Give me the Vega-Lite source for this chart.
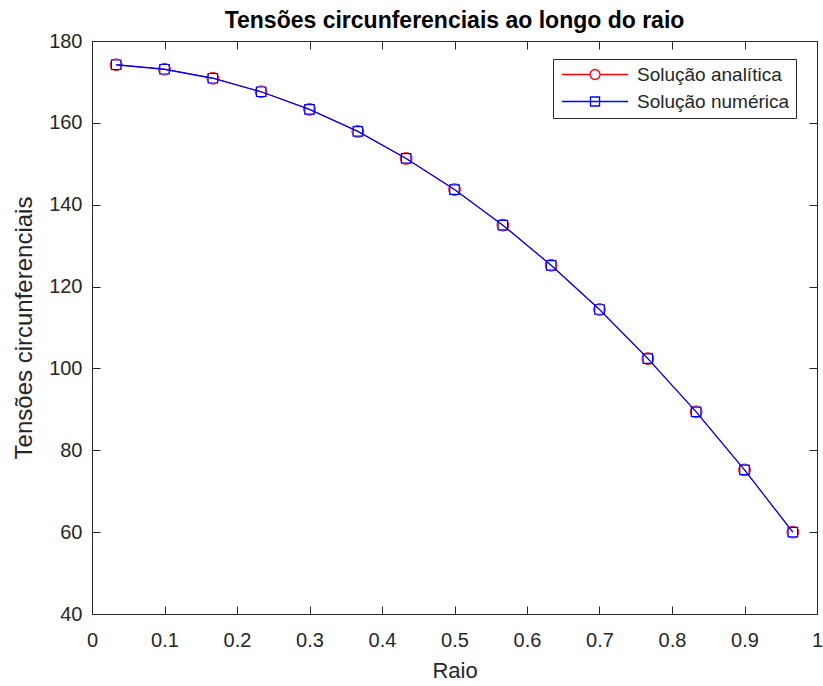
{
  "$schema": "https://vega.github.io/schema/vega-lite/v6.json",
  "autosize": "none",
  "width": 725,
  "height": 573,
  "padding": {"left": 92, "top": 41, "right": 6, "bottom": 72},
  "background": "white",
  "config": {
    "font": "Liberation Sans",
    "view": {"stroke": "#262626", "strokeWidth": 1},
    "axis": {
      "domain": false,
      "tickColor": "#262626",
      "tickWidth": 1,
      "tickSize": 8,
      "offset": -8,
      "labelColor": "#262626",
      "titleColor": "#262626",
      "labelFont": "Liberation Sans",
      "titleFont": "Liberation Sans",
      "labelFontSize": 20,
      "titleFontSize": 22,
      "titleFontWeight": "normal",
      "grid": false
    }
  },
  "title": {
    "text": "Tensões circunferenciais ao longo do raio",
    "font": "Liberation Sans",
    "fontSize": 23,
    "fontWeight": "bold",
    "color": "#000000",
    "anchor": "middle",
    "offset": -2
  },
  "data": {
    "values": [
      {"raio": 0.0333, "tensao": 174.2, "serie": "Solução analítica"},
      {"raio": 0.1, "tensao": 173.1, "serie": "Solução analítica"},
      {"raio": 0.1667, "tensao": 170.9, "serie": "Solução analítica"},
      {"raio": 0.2333, "tensao": 167.6, "serie": "Solução analítica"},
      {"raio": 0.3, "tensao": 163.3, "serie": "Solução analítica"},
      {"raio": 0.3667, "tensao": 157.9, "serie": "Solução analítica"},
      {"raio": 0.4333, "tensao": 151.3, "serie": "Solução analítica"},
      {"raio": 0.5, "tensao": 143.7, "serie": "Solução analítica"},
      {"raio": 0.5667, "tensao": 135.0, "serie": "Solução analítica"},
      {"raio": 0.6333, "tensao": 125.2, "serie": "Solução analítica"},
      {"raio": 0.7, "tensao": 114.4, "serie": "Solução analítica"},
      {"raio": 0.7667, "tensao": 102.4, "serie": "Solução analítica"},
      {"raio": 0.8333, "tensao": 89.4, "serie": "Solução analítica"},
      {"raio": 0.9, "tensao": 75.2, "serie": "Solução analítica"},
      {"raio": 0.9667, "tensao": 60.0, "serie": "Solução analítica"},
      {"raio": 0.0333, "tensao": 174.2, "serie": "Solução numérica"},
      {"raio": 0.1, "tensao": 173.1, "serie": "Solução numérica"},
      {"raio": 0.1667, "tensao": 170.9, "serie": "Solução numérica"},
      {"raio": 0.2333, "tensao": 167.6, "serie": "Solução numérica"},
      {"raio": 0.3, "tensao": 163.3, "serie": "Solução numérica"},
      {"raio": 0.3667, "tensao": 157.9, "serie": "Solução numérica"},
      {"raio": 0.4333, "tensao": 151.3, "serie": "Solução numérica"},
      {"raio": 0.5, "tensao": 143.7, "serie": "Solução numérica"},
      {"raio": 0.5667, "tensao": 135.0, "serie": "Solução numérica"},
      {"raio": 0.6333, "tensao": 125.2, "serie": "Solução numérica"},
      {"raio": 0.7, "tensao": 114.4, "serie": "Solução numérica"},
      {"raio": 0.7667, "tensao": 102.4, "serie": "Solução numérica"},
      {"raio": 0.8333, "tensao": 89.4, "serie": "Solução numérica"},
      {"raio": 0.9, "tensao": 75.2, "serie": "Solução numérica"},
      {"raio": 0.9667, "tensao": 60.0, "serie": "Solução numérica"}
    ]
  },
  "resolve": {"axis": {"x": "independent", "y": "independent"}},
  "layer": [
    {
      "transform": [{"filter": "datum.serie === 'Solução analítica'"}],
      "mark": {"type": "line", "strokeWidth": 1},
      "encoding": {
        "x": {
          "field": "raio",
          "type": "quantitative",
          "scale": {"domain": [0, 1], "nice": false, "zero": false},
          "axis": {"orient": "bottom", "title": "Raio", "values": [0, 0.1, 0.2, 0.3, 0.4, 0.5, 0.6, 0.7, 0.8, 0.9, 1], "format": "~g", "labelPadding": 16, "titlePadding": 10, "labelFlush": false}
        },
        "y": {
          "field": "tensao",
          "type": "quantitative",
          "scale": {"domain": [40, 180], "nice": false, "zero": false},
          "axis": {"orient": "left", "title": "Tensões circunferenciais", "titleFontSize": 24, "values": [40, 60, 80, 100, 120, 140, 160, 180], "labelPadding": 10, "titlePadding": 12, "labelFlush": false}
        },
        "order": {"field": "raio"},
        "color": {
          "field": "serie",
          "type": "nominal",
          "scale": {"domain": ["Solução analítica", "Solução numérica"], "range": ["#ff0000", "#0000ff"]},
          "legend": {
            "title": null,
            "orient": "none",
            "legendX": 461,
            "legendY": 18,
            "padding": 6,
            "strokeColor": "#262626",
            "fillColor": "white",
            "labelFont": "Liberation Sans",
            "labelFontSize": 19,
            "labelColor": "#262626",
            "symbolSize": 144,
            "symbolStrokeWidth": 1.3,
            "symbolFillColor": "transparent",
            "rowPadding": 7,
            "labelOffset": 59,
            "encode": {
              "symbols": {
                "update": {
                  "shape": {"signal": "datum.value === 'Solução analítica' ? 'M-1.08,0H3.59M5.25,0H9.92M3.59,0A0.83,0.83 0 1,1 5.25,0A0.83,0.83 0 1,1 3.59,0' : 'M-1.08,0H9.92M3.67,-0.75H5.17V0.75H3.67Z'"},
                  "fill": {"value": "transparent"}
                }
              }
            }
          }
        }
      }
    },
    {
      "transform": [{"filter": "datum.serie === 'Solução analítica'"}],
      "mark": {"type": "point", "shape": "circle", "filled": false, "stroke": "#ff0000", "strokeWidth": 1, "size": 140, "opacity": 1},
      "encoding": {
        "x": {
          "field": "raio",
          "type": "quantitative",
          "axis": {"orient": "top", "title": null, "labels": false, "values": [0, 0.1, 0.2, 0.3, 0.4, 0.5, 0.6, 0.7, 0.8, 0.9, 1]}
        },
        "y": {
          "field": "tensao",
          "type": "quantitative",
          "axis": {"orient": "right", "title": null, "labels": false, "values": [40, 60, 80, 100, 120, 140, 160, 180]}
        }
      }
    },
    {
      "transform": [{"filter": "datum.serie === 'Solução numérica'"}],
      "mark": {"type": "line", "strokeWidth": 1.3},
      "encoding": {
        "x": {"field": "raio", "type": "quantitative", "axis": null},
        "y": {"field": "tensao", "type": "quantitative", "axis": null},
        "order": {"field": "raio"},
        "color": {"field": "serie", "type": "nominal"}
      }
    },
    {
      "transform": [{"filter": "datum.serie === 'Solução numérica'"}],
      "mark": {"type": "point", "shape": "square", "filled": false, "stroke": "#0000ff", "strokeWidth": 1.2, "size": 90, "opacity": 1},
      "encoding": {
        "x": {"field": "raio", "type": "quantitative", "axis": null},
        "y": {"field": "tensao", "type": "quantitative", "axis": null}
      }
    }
  ]
}
